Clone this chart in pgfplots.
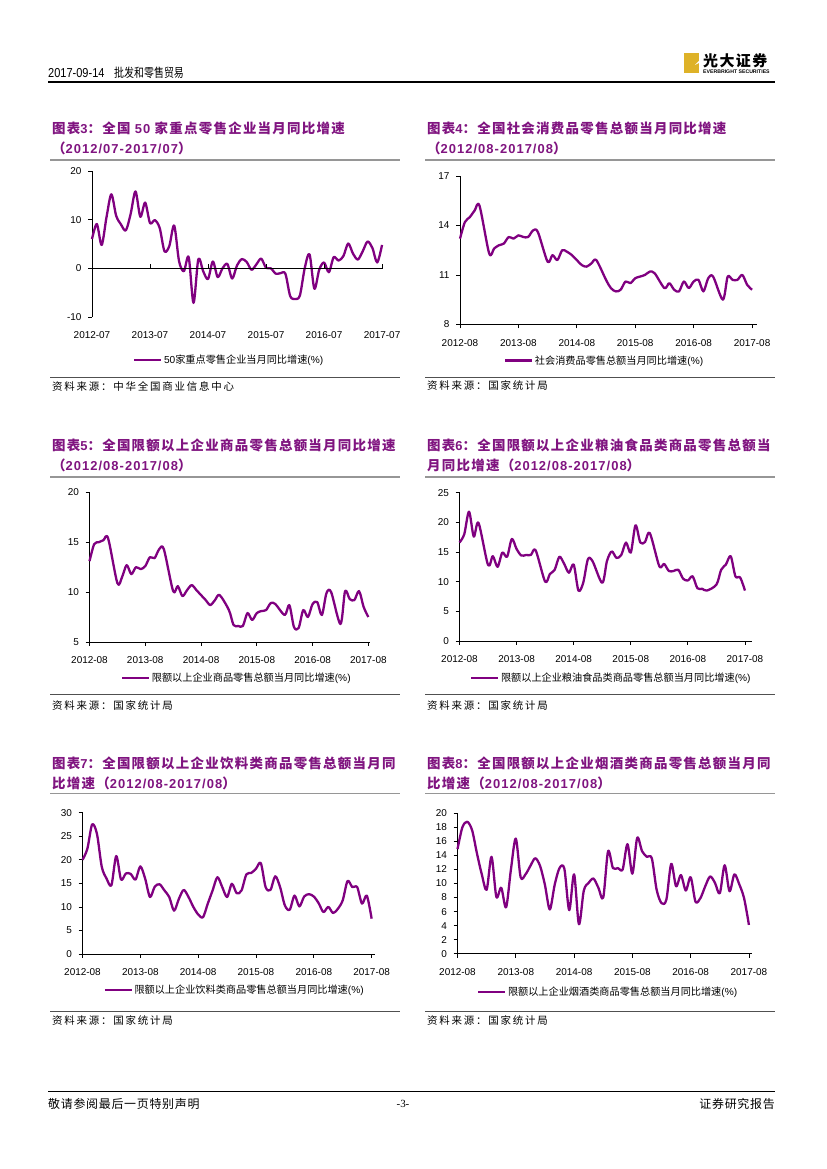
\documentclass[border=0pt]{standalone}
\usepackage{fontspec}
\usepackage{pgfplots}
\pgfplotsset{compat=1.18}

\setmainfont{Liberation Sans}
\newfontfamily\cjk{Noto Sans CJK SC}
\newfontfamily\tcjk{Noto Sans CJK SC}[LetterSpace=9.5]
\newfontfamily\tlat{Liberation Sans}[LetterSpace=8]
\newfontfamily\scjk{Noto Sans CJK SC}[LetterSpace=17]
\newfontfamily\fcjk{Noto Sans CJK SC}[LetterSpace=6]
\newfontfamily\hlat{Liberation Sans}[FakeStretch=0.85]
\newfontfamily\hcjk{Noto Sans CJK SC}[FakeStretch=0.8]
\newfontfamily\serif{Liberation Serif}

\definecolor{lnpurple}{RGB}{128,0,128}
\definecolor{ttlpurple}{RGB}{128,20,128}
\definecolor{titlerule}{RGB}{150,150,150}
\definecolor{srcrule}{RGB}{80,80,80}
\definecolor{logogold}{RGB}{222,178,40}

% title pieces: CJK and Latin, bold purple
\newcommand\TC[1]{{\fontsize{13.5}{15}\tcjk\bfseries #1}}
\newcommand\TL[1]{{\fontsize{13}{15}\tlat\bfseries #1}}
\newcommand\SRC[1]{{\fontsize{10.5}{12}\scjk #1}}

\pgfplotsset{
  gb/.style={
    scale only axis, anchor=south west,
    axis lines*=left,
    axis line style={black, line width=0.75bp},
    tick style={black, line width=0.75bp},
    tick align=outside,
    major tick length=4bp,
    xmin=0, xtick={0,12,24,36,48,60},
    ticklabel style={font=\fontsize{10}{12}\selectfont},
    /pgf/number format/assume math mode=true,
    yticklabel style={xshift=-3bp},
    xticklabel style={yshift=-7.5bp},
    clip=false,
    legend style={draw=none, fill=none, inner sep=0pt, outer sep=0pt,
      anchor=west, font=\fontsize{10.2}{12}\selectfont,
      nodes={inner sep=1.5bp}},
    legend image code/.code={\draw[#1, line width=2.5bp] (0bp,0bp) -- (27bp,0bp);},
    legend cell align=left,
  },
  ln/.style={lnpurple, line width=2.3bp, smooth, no markers, line join=round},
}

\begin{document}
\begin{tikzpicture}[x=1bp,y=1bp]
\useasboundingbox (0,0) rectangle (827,1169);
\fill[white] (0,0) rectangle (827,1169);

% header
\node[anchor=west, inner sep=0] at (48,1096) {\fontsize{13}{15}\hlat 2017-09-14};
\node[anchor=west, inner sep=0] at (114,1096) {\fontsize{12.5}{15}\hcjk 批发和零售贸易};
\draw[line width=1.2bp] (48,1087) -- (775,1087);
\fill[logogold] (684,1096) rectangle (699,1116);
\fill[white] (695,1104) -- (699,1106) -- (699,1108) -- cycle;
\node[anchor=west, inner sep=0] at (703,1108) {\fontsize{15}{17}\tcjk\bfseries 光大证券};
\node[anchor=west, inner sep=0] at (703,1097) {\fontsize{5.2}{6}\selectfont\bfseries EVERBRIGHT SECURITIES};

% ---------------- chart 3 ----------------
\begin{axis}[gb, at={(92bp,852bp)}, width=291bp, height=146bp,
  xmax=60.2, ymin=-10, ymax=20,
  ytick={-10,0,10,20}, yticklabels={-10,0,10,20},
  xticklabels={2012-07,2013-07,2014-07,2015-07,2016-07,2017-07},
  x axis line style={draw=none}, xtick style={draw=none},
  legend style={at={(axis description cs:0.141,-0.2945)}}]
\addplot[ln] coordinates {
 (0,6.0) (1,9.1) (2,4.8) (3,10.5) (4,15.2) (5,10.8) (6,9.0) (7,7.8) (8,11.2) (9,15.8)
 (10,10.6) (11,13.5) (12,9.3) (13,9.9) (14,8.3) (15,3.5) (16,4.6) (17,8.8) (18,1.5) (19,-0.6)
 (20,2.3) (21,-7.1) (22,1.9) (23,-0.6) (24,-2.2) (25,1.4) (26,-1.8) (27,0.0) (28,0.9) (29,-2.1)
 (30,0.6) (31,1.9) (32,1.3) (33,-0.3) (34,0.8) (35,2.0) (36,0.1) (37,0.0) (38,-1.1) (39,-1.0)
 (40,-1.1) (41,-5.7) (42,-6.3) (43,-5.6) (44,0.0) (45,2.9) (46,-4.2) (47,-0.3) (48,1.2) (49,-0.8)
 (50,2.3) (51,1.6) (52,2.5) (53,5.1) (54,3.0) (55,1.8) (56,3.5) (57,5.5) (58,4.2) (59,1.2)
 (60,4.8)};
\addlegendentry{50{\cjk 家重点零售企业当月同比增速}(\%)}
\draw[black, line width=0.75bp] (axis cs:0,0) -- (axis cs:60.2,0);
\pgfplotsinvokeforeach{12,24,36,48,60}{\draw[black, line width=0.75bp] (axis cs:#1,0) -- ++(0bp,4bp);}
\end{axis}

% ---------------- chart 4 ----------------
\begin{axis}[gb, at={(460bp,844.6bp)}, width=296.9bp, height=148.4bp,
  xmax=61, ymin=8, ymax=17,
  ytick={8,11,14,17}, yticklabels={8,11,14,17},
  xticklabels={2012-08,2013-08,2014-08,2015-08,2016-08,2017-08},
  legend style={at={(axis description cs:0.148,-0.2446)}}]
\addplot[ln] coordinates {
 (0,13.2) (1,14.2) (2,14.5) (3,14.9) (4,15.2) (6,12.3) (7,12.6) (8,12.8) (9,12.9)
 (10,13.3) (11,13.2) (12,13.4) (13,13.3) (14,13.3) (15,13.7) (16,13.6) (18,11.8) (19,12.2)
 (20,11.9) (21,12.5) (22,12.4) (23,12.2) (24,11.9) (25,11.6) (26,11.5) (27,11.7) (28,11.9)
 (30,10.7) (31,10.2) (32,10.0) (33,10.1) (34,10.6) (35,10.5) (36,10.8) (37,10.9) (38,11.0) (39,11.2)
 (40,11.1) (42,10.2) (43,10.5) (44,10.1) (45,10.0) (46,10.6) (47,10.2) (48,10.6) (49,10.7)
 (50,10.0) (51,10.8) (52,10.9) (54,9.5) (55,10.9) (56,10.7) (57,10.7) (58,11.0) (59,10.4)
 (60,10.1)};
\addlegendentry{\cjk 社会消费品零售总额当月同比增速{\rmfamily(\%)}}
\end{axis}

% ---------------- chart 5 ----------------
\begin{axis}[gb, at={(89.5bp,527bp)}, width=280.5bp, height=149.7bp,
  xmax=60.36, ymin=5, ymax=20,
  ytick={5,10,15,20}, yticklabels={5,10,15,20},
  xticklabels={2012-08,2013-08,2014-08,2015-08,2016-08,2017-08},
  legend style={at={(axis description cs:0.112,-0.2405)}}]
\addplot[ln] coordinates {
 (0,13.1) (1,14.8) (2,15.0) (3,15.2) (4,15.4) (6,10.9) (7,11.5) (8,12.7) (9,11.8)
 (10,12.5) (11,12.3) (12,12.6) (13,13.5) (14,13.4) (15,14.3) (16,14.3) (18,10.1) (19,10.6)
 (20,9.6) (21,10.2) (22,10.7) (23,10.2) (24,9.7) (25,9.2) (26,8.7) (27,9.2) (28,9.7)
 (30,8.2) (31,6.7) (32,6.6) (33,6.6) (34,7.9) (35,7.2) (36,7.9) (37,8.1) (38,8.2) (39,8.9)
 (40,8.8) (42,7.7) (43,8.7) (44,6.5) (45,6.4) (46,8.2) (47,7.5) (48,8.8) (49,9.0)
 (50,7.7) (51,9.9) (52,10.0) (54,6.8) (55,10.1) (56,9.3) (57,9.2) (58,10.1) (59,8.5)
 (60,7.5)};
\addlegendentry{\cjk 限额以上企业商品零售总额当月同比增速{\rmfamily(\%)}}
\end{axis}

% ---------------- chart 6 ----------------
\begin{axis}[gb, at={(459.5bp,528bp)}, width=292.1bp, height=148.3bp,
  xmax=61.4, ymin=0, ymax=25,
  ytick={0,5,10,15,20,25}, yticklabels={0,5,10,15,20,25},
  xticklabels={2012-08,2013-08,2014-08,2015-08,2016-08,2017-08},
  legend style={at={(axis description cs:0.036,-0.2495)}}]
\addplot[ln] coordinates {
 (0,16.6) (1,18.0) (2,21.8) (3,17.6) (4,19.9) (6,12.8) (7,14.3) (8,12.5) (9,14.9)
 (10,14.2) (11,17.2) (12,15.5) (13,14.4) (14,14.5) (15,14.5) (16,15.3) (18,10.0) (19,11.3)
 (20,12.0) (21,14.2) (22,13.0) (23,11.5) (24,12.9) (25,8.5) (26,9.8) (27,13.8) (28,13.4)
 (30,9.8) (31,13.5) (32,15.1) (33,14.0) (34,14.5) (35,16.6) (36,14.9) (37,19.5) (38,16.6) (39,16.7)
 (40,18.2) (42,12.6) (43,13.0) (44,11.8) (45,11.8) (46,12.0) (47,10.5) (48,10.2) (49,10.9)
 (50,8.9) (51,8.8) (52,8.5) (54,9.5) (55,12.0) (56,12.9) (57,14.3) (58,10.9) (59,10.7)
 (60,8.5)};
\addlegendentry{\cjk 限额以上企业粮油食品类商品零售总额当月同比增速{\rmfamily(\%)}}
\end{axis}

% ---------------- chart 7 ----------------
\begin{axis}[gb, at={(82.5bp,215bp)}, width=292.5bp, height=141.3bp,
  xmax=60.7, ymin=0, ymax=30,
  ytick={0,5,10,15,20,25,30}, yticklabels={0,5,10,15,20,25,30},
  xticklabels={2012-08,2013-08,2014-08,2015-08,2016-08,2017-08},
  legend style={at={(axis description cs:0.0718,-0.2548)}}]
\addplot[ln] coordinates {
 (0,20.0) (1,22.3) (2,27.5) (3,25.5) (4,18.5) (5,16.0) (6,14.6) (7,20.8) (8,15.8) (9,17.1)
 (10,17.0) (11,15.8) (12,18.6) (13,16.0) (14,12.1) (15,14.3) (16,14.8) (17,13.5) (18,12.1) (19,9.2)
 (20,11.7) (21,13.6) (22,12.1) (23,10.0) (24,8.4) (25,7.8) (26,10.7) (27,13.5) (28,16.3) (29,14.2)
 (30,12.1) (31,14.9) (32,12.9) (33,13.5) (34,16.9) (35,17.2) (36,18.1) (37,19.3) (38,14.2) (39,13.6)
 (40,16.5) (41,14.2) (42,10.3) (43,9.4) (44,12.4) (45,10.1) (46,12.2) (47,12.7) (48,12.2) (49,10.8)
 (50,8.9) (51,10.0) (52,8.7) (53,9.6) (54,11.4) (55,15.5) (56,14.2) (57,14.2) (58,10.7) (59,12.4)
 (60,7.5)};
\addlegendentry{\cjk 限额以上企业饮料类商品零售总额当月同比增速{\rmfamily(\%)}}
\end{axis}

% ---------------- chart 8 ----------------
\begin{axis}[gb, at={(457.5bp,215.3bp)}, width=294.1bp, height=140.4bp,
  xmax=60.55, ymin=0, ymax=20,
  ytick={0,2,...,20}, yticklabels={0,2,4,6,8,10,12,14,16,18,20},
  xticklabels={2012-08,2013-08,2014-08,2015-08,2016-08,2017-08},
  legend style={at={(axis description cs:0.0663,-0.2728)}}]
\addplot[ln] coordinates {
 (0,14.9) (1,18.0) (2,18.8) (3,17.6) (4,14.3) (5,11.3) (6,9.1) (7,13.8) (8,8.1) (9,9.4)
 (10,6.6) (11,12.0) (12,16.4) (13,10.9) (14,11.3) (15,12.5) (16,13.6) (17,12.5) (18,9.8) (19,6.3)
 (20,9.8) (21,12.2) (22,12.1) (23,6.2) (24,11.3) (25,4.2) (26,9.0) (27,10.1) (28,10.7) (29,9.4)
 (30,8.0) (31,14.6) (32,12.2) (33,12.2) (34,12.0) (35,15.6) (36,11.4) (37,16.5) (38,14.6) (39,13.8)
 (40,13.6) (41,9.1) (42,7.2) (43,7.7) (44,12.8) (45,9.6) (46,11.2) (47,9.0) (48,10.9) (49,7.4)
 (50,7.9) (51,9.6) (52,11.0) (53,10.1) (54,8.6) (55,12.6) (56,8.9) (57,11.3) (58,9.9) (59,7.9)
 (60,4.1)};
\addlegendentry{\cjk 限额以上企业烟酒类商品零售总额当月同比增速{\rmfamily(\%)}}
\end{axis}

% ---------------- titles, rules and sources ----------------
\begin{scope}[every node/.style={anchor=west, inner sep=0, text=ttlpurple}]
\node at (52,1041) {\TC{图表}\TL{3}\TC{：全国 }\TL{50}\TC{ 家重点零售企业当月同比增速}};
\node at (52,1021) {\TC{（}\TL{2012/07-2017/07}\TC{）}};
\node at (427,1041) {\TC{图表}\TL{4}\TC{：全国社会消费品零售总额当月同比增速}};
\node at (427,1021) {\TC{（}\TL{2012/08-2017/08}\TC{）}};
\node at (52,724) {\TC{图表}\TL{5}\TC{：全国限额以上企业商品零售总额当月同比增速}};
\node at (52,704) {\TC{（}\TL{2012/08-2017/08}\TC{）}};
\node at (427,724) {\TC{图表}\TL{6}\TC{：全国限额以上企业粮油食品类商品零售总额当}};
\node at (427,704) {\TC{月同比增速（}\TL{2012/08-2017/08}\TC{）}};
\node at (52,406) {\TC{图表}\TL{7}\TC{：全国限额以上企业饮料类商品零售总额当月同}};
\node at (52,386) {\TC{比增速（}\TL{2012/08-2017/08}\TC{）}};
\node at (427,406) {\TC{图表}\TL{8}\TC{：全国限额以上企业烟酒类商品零售总额当月同}};
\node at (427,386) {\TC{比增速（}\TL{2012/08-2017/08}\TC{）}};
\end{scope}

\foreach \yy in {1009,692,375.5} {
  \draw[titlerule, line width=1.5bp] (50,\yy) -- (400,\yy);
  \draw[titlerule, line width=1.5bp] (425,\yy) -- (775,\yy);
}
\foreach \yy in {792,474.5,158} {
  \draw[srcrule, line width=0.8bp] (50,\yy) -- (400,\yy);
  \draw[srcrule, line width=0.8bp] (425,\yy) -- (775,\yy);
}
\begin{scope}[every node/.style={anchor=west, inner sep=0}]
\node at (52,783) {\SRC{资料来源：中华全国商业信息中心}};
\node at (427,783) {\SRC{资料来源：国家统计局}};
\node at (52,463.5) {\SRC{资料来源：国家统计局}};
\node at (427,463.5) {\SRC{资料来源：国家统计局}};
\node at (52,148) {\SRC{资料来源：国家统计局}};
\node at (427,148) {\SRC{资料来源：国家统计局}};
\end{scope}

% footer
\draw[line width=1bp] (48,77) -- (775,77);
\node[anchor=west, inner sep=0] at (48,65) {\fontsize{12}{14}\fcjk 敬请参阅最后一页特别声明};
\node[inner sep=0] at (403,65) {\fontsize{11}{13}\serif -3-};
\node[anchor=east, inner sep=0] at (775,65) {\fontsize{12}{14}\fcjk 证券研究报告};
\end{tikzpicture}
\end{document}
